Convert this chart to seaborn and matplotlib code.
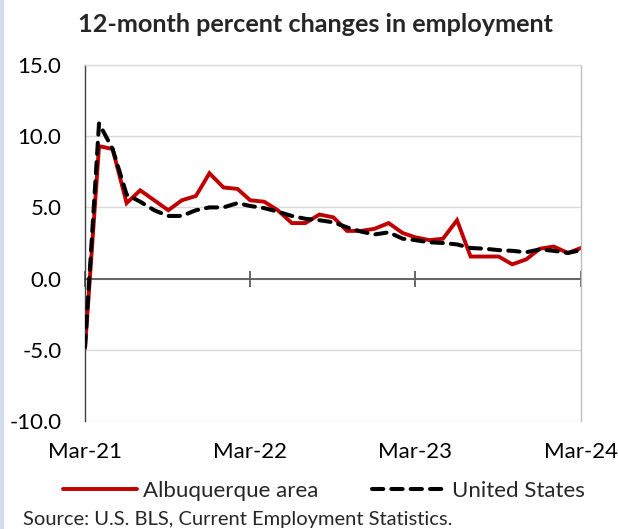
import numpy as np
import pandas as pd
import matplotlib
matplotlib.use("Agg")
import matplotlib.pyplot as plt
import matplotlib.dates as mdates
import seaborn as sns

# ---- data ----
months = pd.date_range("2021-03-01", "2024-03-01", freq="MS")
albuquerque = [-4.9, 9.3, 9.1, 5.3, 6.2, 5.5, 4.8, 5.5, 5.8, 7.4, 6.4, 6.3,
               5.5, 5.4, 4.8, 3.9, 3.9, 4.5, 4.3, 3.35, 3.35, 3.5, 3.9, 3.2,
               2.9, 2.7, 2.8, 4.1, 1.55, 1.55, 1.55, 1.0, 1.35, 2.1, 2.25, 1.8,
               2.15]
united_states = [-4.8, 10.9, 9.1, 5.9, 5.4, 4.8, 4.4, 4.4, 4.8, 5.0, 5.0, 5.3,
                 5.1, 4.95, 4.7, 4.4, 4.2, 4.1, 3.95, 3.6, 3.3, 3.1, 3.25, 2.8,
                 2.7, 2.55, 2.5, 2.4, 2.15, 2.1, 2.0, 1.95, 1.85, 2.05, 1.95,
                 1.8, 2.0]
series_names = ["Albuquerque area", "United States"]
y_ticks = [-10.0, -5.0, 0.0, 5.0, 10.0, 15.0]
x_tick_dates = months[::12]
title = "12-month percent changes in employment"
source = "Source: U.S. BLS, Current Employment Statistics."

df = pd.DataFrame({"month": months, "alb": albuquerque, "us": united_states})

sns.set_style("white")
plt.rcParams["font.family"] = ["Lato", "DejaVu Sans"]

fig = plt.figure(figsize=(6.18, 5.29), dpi=100)
fig.patches.append(plt.Rectangle((0, 0), 3 / 618, 1, transform=fig.transFigure,
                                 color="#D3DDF0", zorder=0))
ax = fig.add_axes([85 / 618, 1 - 421 / 529, 496 / 618, 356 / 529])

sns.lineplot(data=df, x="month", y="alb", ax=ax, color="#C00000",
             linewidth=2.8, label=series_names[0], legend=False)
sns.lineplot(data=df, x="month", y="us", ax=ax, color="black",
             linewidth=2.9, label=series_names[1], legend=False)
l_alb, l_us = ax.lines[0], ax.lines[1]
l_alb.set_solid_joinstyle("miter")
l_us.set_dashes((2.8, 2.0))
l_us.set_dash_capstyle("round")
l_us.set_zorder(3)
l_alb.set_zorder(2)

ax.set_ylim(-10, 15)
ax.set_xlim(months[0], months[-1])
ax.set_yticks(y_ticks)
ax.set_yticklabels([f"{v:.1f}" for v in y_ticks])
ax.set_xticks(x_tick_dates)
ax.xaxis.set_major_formatter(mdates.DateFormatter("%b-%y"))
ax.set_xlabel("")
ax.set_ylabel("")

ax.grid(axis="y", color="#D9D9D9", linewidth=1.0)
ax.grid(axis="x", visible=False)
ax.set_axisbelow(True)

ax.spines["bottom"].set_position(("data", 0))
ax.spines["bottom"].set_color("#595959")
ax.spines["bottom"].set_linewidth(1.3)
ax.spines["bottom"].set_zorder(1.5)
ax.spines["left"].set_color("#404040")
ax.spines["left"].set_linewidth(1.0)
ax.spines["top"].set_color("#D9D9D9")
ax.spines["right"].set_color("#BFBFBF")
ax.spines["top"].set_linewidth(1.0)
ax.spines["right"].set_linewidth(1.0)

ax.tick_params(axis="x", bottom=True, direction="inout", length=11, width=1.3,
               color="#595959", pad=112, labelsize=16, labelcolor="black")
ax.tick_params(axis="y", left=False, length=0, pad=17, labelsize=16,
               labelcolor="black")

fig.text(316 / 618, 1 - 24 / 529, title, ha="center", va="center",
         fontsize=18.2, fontweight="bold")

fig.legend(handles=[l_alb, l_us], labels=series_names, loc="center",
           bbox_to_anchor=(324 / 618, 1 - 491 / 529), ncol=2, frameon=False,
           fontsize=16, handlelength=3.3, handletextpad=0.3,
           columnspacing=2.4, borderaxespad=0, borderpad=0)

fig.text(23 / 618, 1 - 519 / 529, source, ha="left", va="center", fontsize=14.5)

fig.savefig("out.png", dpi=100)
